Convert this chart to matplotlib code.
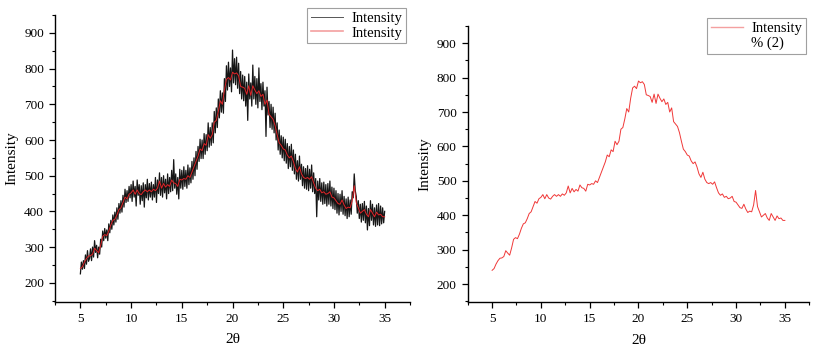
import numpy as np
import matplotlib
matplotlib.use("Agg")
import matplotlib.pyplot as plt
from matplotlib.lines import Line2D

plt.rcParams['font.family'] = ['Liberation Serif', 'DejaVu Serif']

# Smoothed curve (red), 2theta from 5 to 35 step 0.2
smooth_start, smooth_step = 5.0, 0.2
smooth_vals = [
    240, 245, 258, 268, 275, 276, 280, 297, 290, 284,
    305, 330, 335, 332, 345, 362, 375, 378, 390, 405,
    410, 425, 440, 435, 448, 452, 460, 448, 460, 450,
    447, 455, 460, 455, 460, 455, 462, 458, 465, 485,
    465, 478, 468, 475, 470, 488, 480, 478, 470, 490,
    488, 492, 490, 500, 495, 510, 525, 540, 555, 575,
    570, 590, 585, 615, 605, 615, 650, 655, 680, 710,
    700, 740, 770, 775, 768, 790, 785, 788, 780, 750,
    748, 745, 728, 752, 725, 752, 740, 730, 738, 722,
    728, 700, 712, 672, 665, 658, 640, 615, 592, 585,
    575, 572, 558, 550, 555, 540, 520, 510, 525, 505,
    495, 492, 495, 490, 497, 480, 465, 458, 462, 452,
    455, 448, 450, 455, 440, 438, 430, 422, 420, 432,
    418, 408, 412, 410, 430, 472, 425, 410, 395, 400,
    405, 392, 385, 405, 395, 385, 398, 390, 392, 385,
    385,
]

# Raw measured curve (black), 2theta from 5 to 35 step 0.1
raw_start, raw_step = 5.0, 0.1
raw_vals = [
    225, 258, 238, 262, 240, 278, 252, 290, 260, 268,
    295, 262, 300, 272, 318, 285, 305, 270, 300, 280,
    322, 300, 345, 318, 352, 325, 348, 318, 365, 340,
    375, 350, 390, 362, 398, 370, 410, 378, 422, 395,
    430, 398, 445, 412, 462, 425, 458, 428, 470, 438,
    475, 428, 485, 440, 470, 415, 488, 445, 475, 420,
    472, 430, 480, 412, 475, 438, 490, 432, 478, 440,
    482, 432, 475, 440, 495, 425, 488, 450, 508, 445,
    495, 440, 500, 452, 490, 435, 505, 450, 495, 455,
    515, 458, 545, 465, 505, 448, 495, 435, 518, 465,
    515, 462, 525, 470, 515, 465, 530, 475, 522, 480,
    540, 490, 550, 500, 568, 518, 582, 540, 602, 548,
    600, 548, 618, 560, 615, 570, 648, 580, 635, 585,
    648, 592, 680, 620, 690, 635, 715, 662, 738, 678,
    732, 675, 772, 708, 808, 740, 818, 750, 802, 735,
    852, 760, 828, 755, 832, 745, 815, 730, 792, 715,
    782, 710, 778, 695, 762, 655, 785, 715, 760, 695,
    810, 715, 778, 700, 772, 690, 802, 708, 758, 685,
    762, 695, 738, 610, 748, 670, 708, 635, 700, 630,
    692, 620, 675, 600, 648, 572, 628, 560, 612, 550,
    608, 542, 602, 535, 590, 520, 582, 525, 588, 515,
    572, 505, 560, 490, 542, 485, 555, 490, 532, 472,
    525, 465, 520, 462, 528, 458, 518, 465, 530, 455,
    508, 450, 492, 385, 485, 432, 492, 428, 480, 420,
    482, 422, 475, 415, 478, 420, 485, 415, 468, 408,
    465, 405, 458, 395, 450, 390, 448, 400, 458, 392,
    442, 388, 435, 380, 440, 385, 432, 392, 455, 438,
    505, 458, 442, 395, 430, 380, 420, 370, 422, 375,
    428, 368, 415, 348, 408, 360, 430, 375, 420, 362,
    410, 358, 418, 362, 422, 360, 415, 365, 410, 368,
    400,
]

x_ticks = [5, 10, 15, 20, 25, 30, 35]
y_ticks = [200, 300, 400, 500, 600, 700, 800, 900]
x_label = "2θ"
y_label = "Intensity"
legend_left = ["Intensity", "Intensity"]
legend_right = ["Intensity", "% (2)"]

smooth_x = smooth_start + smooth_step * np.arange(len(smooth_vals))
raw_x = raw_start + raw_step * np.arange(len(raw_vals))

fig = plt.figure(figsize=(8.3, 3.51), dpi=100)
ax1 = fig.add_axes([0.0663, 0.1405, 0.4277, 0.8165])
ax2 = fig.add_axes([0.5635, 0.1387, 0.4115, 0.7873])

def style(ax):
    ax.set_xlim(2.5, 37.5)
    ax.set_ylim(147, 950)
    ax.spines['top'].set_visible(False)
    ax.spines['right'].set_visible(False)
    for s in ('left', 'bottom'):
        ax.spines[s].set_linewidth(1.0)
    ax.set_xticks(x_ticks)
    ax.set_yticks(y_ticks)
    ax.set_xticks(np.arange(2.5, 37.6, 2.5), minor=True)
    ax.set_yticks(np.arange(150, 951, 50), minor=True)
    ax.tick_params(which='major', direction='out', length=4.5, width=0.9, labelsize=9.5)
    ax.tick_params(which='minor', direction='out', length=2.5, width=0.8)
    ax.set_xlabel(x_label, fontsize=11, labelpad=6)
    ax.set_ylabel(y_label, fontsize=11, labelpad=4)

ax1.plot(raw_x, raw_vals, color='#151515', lw=0.9, label=legend_left[0])
ax1.plot(smooth_x, smooth_vals, color='#e02428', lw=0.7, label=legend_left[1])
style(ax1)
leg_kw = dict(loc='upper right', bbox_transform=fig.transFigure, fontsize=10.5,
              frameon=True, fancybox=False, edgecolor='#888888', handlelength=2.2,
              borderpad=0.25, labelspacing=0.1, handletextpad=0.6, borderaxespad=0)
leg1 = ax1.legend(bbox_to_anchor=(0.489, 0.977), **leg_kw)
leg1.get_frame().set_linewidth(0.8)
leg1.legend_handles[0].set_color('#555555')
leg1.legend_handles[0].set_linewidth(0.7)
leg1.legend_handles[1].set_color('#f4a0a0')
leg1.legend_handles[1].set_linewidth(1.2)

ax2.plot(smooth_x, smooth_vals, color='#f03838', lw=0.7)
style(ax2)
handles = [Line2D([], [], color='#f4a0a0', lw=1.0), Line2D([], [], color='none')]
leg2 = ax2.legend(handles, legend_right, bbox_to_anchor=(0.971, 0.948), **leg_kw)
leg2.get_frame().set_linewidth(0.8)

fig.savefig("out.png", dpi=100)
